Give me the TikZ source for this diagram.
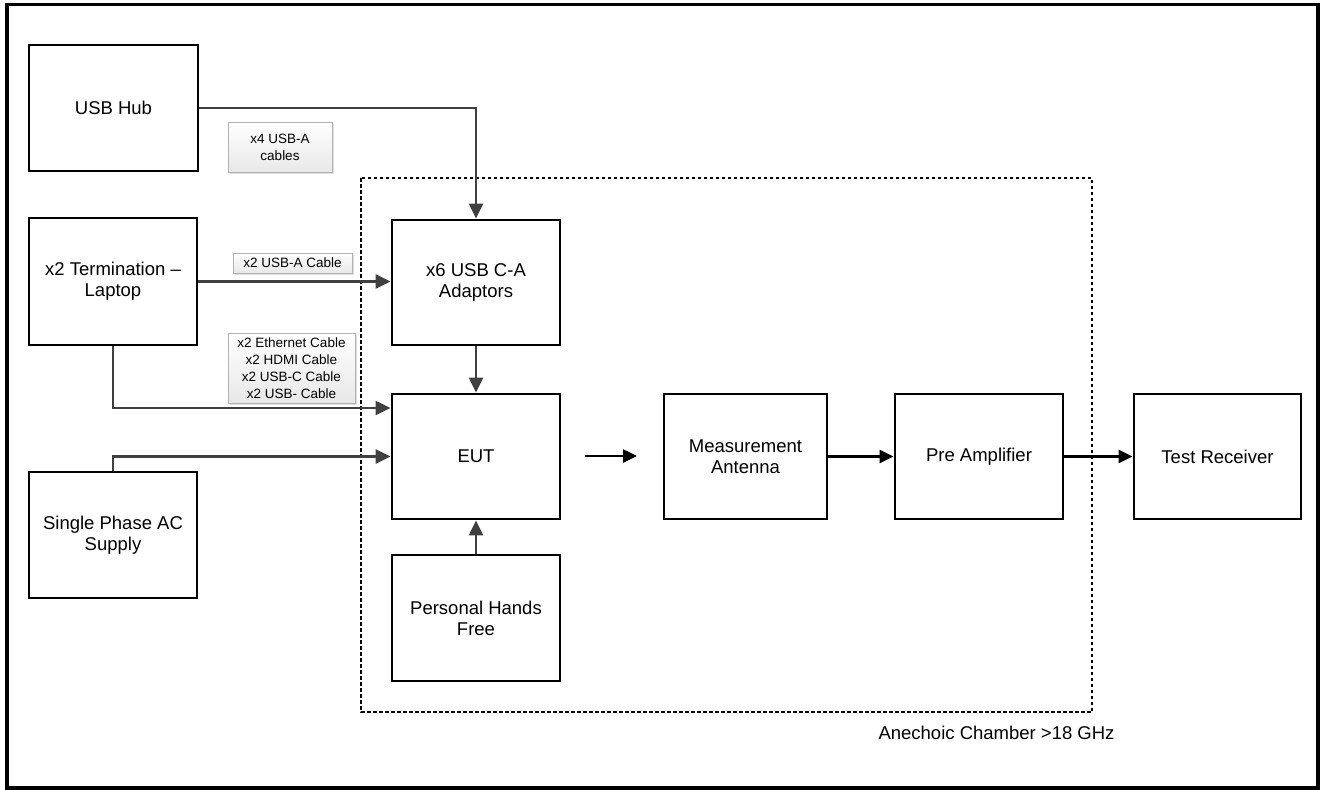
\documentclass[tikz,border=0pt]{standalone}
\usepackage{fontspec}
\setmainfont{Liberation Sans}
\usetikzlibrary{arrows.meta,shadows,calc}
\begin{document}
\begin{tikzpicture}[x=1pt,y=-1pt,
  blk/.style={draw=black,line width=2.8pt,minimum width=168pt,minimum height=125pt,inner sep=0pt,align=center,font=\fontsize{18.5}{21}\selectfont},
  lbl/.style={draw=gray!60,line width=0.8pt,top color=white,bottom color=gray!18,inner sep=0pt,align=center,font=\fontsize{13.5}{16.8}\selectfont,
    drop shadow={shadow xshift=1.5pt,shadow yshift=-1.5pt,fill=gray!50,opacity=0.5}},
  gcon/.style={draw=black!75,line width=2.2pt,-{Triangle[length=15pt,width=14pt]}},
  bcon/.style={draw=black,line width=2.5pt,-{Triangle[length=14pt,width=13pt]}}
]
\useasboundingbox (0,0) rectangle (1323,790);
\draw[line width=3.5pt] (7,4.5) rectangle (1318,788);
% chamber
\draw[line width=2pt,dash pattern=on 3.5pt off 2.5pt] (361,178) rectangle (1092,712);
\node[anchor=west,font=\fontsize{18.5}{21}\selectfont] (chlab) at (875,733) {Anechoic Chamber >18 GHz};
% blocks
\node[blk,minimum width=169pt,minimum height=126pt] (hub) at (113.5,108) {USB Hub};
\node[blk,minimum height=127pt] (term) at (113,281.5) {x2 Termination –\\Laptop};
\node[blk,minimum height=126pt] (ac) at (113,535) {Single Phase AC\\Supply};
\node[blk] (usbca) at (476,282.5) {x6 USB C-A\\Adaptors};
\node[blk] (eut) at (476,456.5) {EUT};
\node[blk,minimum height=126pt] (phf) at (476,618) {Personal Hands\\Free};
\node[blk,minimum width=163pt] (ma) at (745.5,456.5) {Measurement\\Antenna};
\node[blk] (pa) at (979,456.5) {Pre Amplifier};
\node[blk,minimum width=167pt] (tr) at (1217.5,456.5) {Test Receiver};
% labels
\node[lbl,minimum width=104pt,minimum height=50pt] (l1) at (280,147) {x4 USB-A\\cables};
\node[lbl,minimum width=119pt,minimum height=20pt] (l2) at (292.5,263) {x2 USB-A Cable};
\node[lbl,minimum width=127pt,minimum height=70pt] (l3) at (291.5,368) {x2 Ethernet Cable\\x2 HDMI Cable\\x2 USB-C Cable\\x2 USB- Cable};
% connectors
\draw[gcon] (hub.east) -| (usbca.north);
\draw[gcon] (term.east) -- (term.east -| usbca.west);
\draw[gcon] (term.south) |- ([yshift=48.5pt]eut.west);
\draw[gcon] (ac.north) |- (eut.west);
\draw[gcon] (usbca.south) -- (eut.north);
\draw[gcon] (phf.north) -- (eut.south);
\coordinate (fa) at (585,456);
\coordinate (fb) at (637,456);
\draw[bcon] (fa) -- (fb);
\draw[bcon] (ma.east) -- (pa.west);
\draw[bcon] (pa.east) -- (tr.west);
\end{tikzpicture}
\end{document}
